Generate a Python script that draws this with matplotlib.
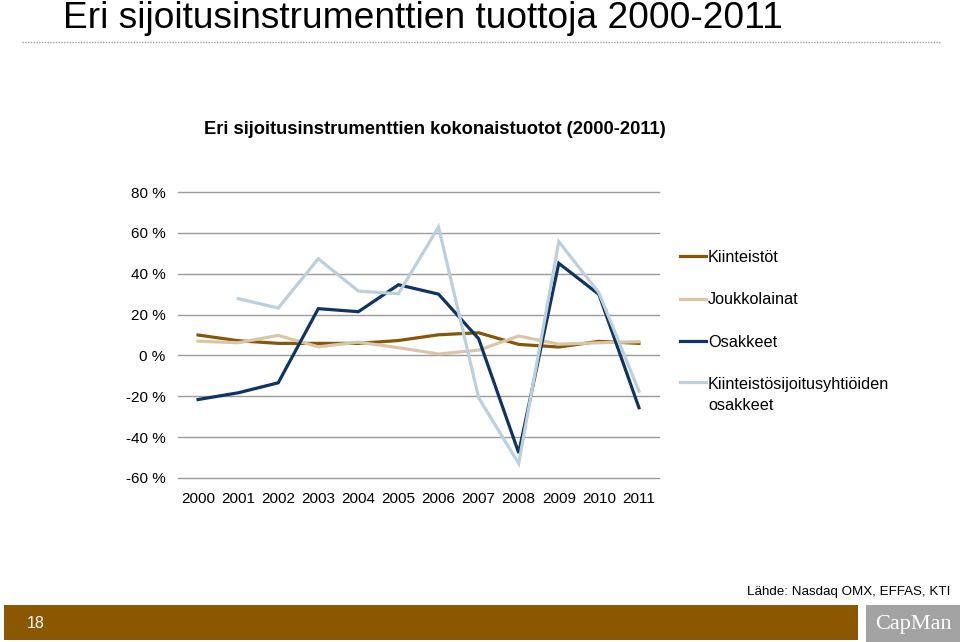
import matplotlib
matplotlib.use("Agg")
import matplotlib.pyplot as plt
from matplotlib.patches import Rectangle
from matplotlib.lines import Line2D
import numpy as np

plt.rcParams['font.family'] = ['Liberation Sans', 'DejaVu Sans']

years = [str(y) for y in range(2000, 2012)]
kiinteistot = [10.0, 7.2, 5.9, 5.9, 5.9, 7.3, 10.1, 11.1, 5.4, 4.1, 6.9, 5.9]
joukkolainat = [7.0, 6.2, 9.8, 4.2, 6.5, 3.8, 0.7, 2.6, 9.5, 5.5, 6.2, 6.7]
osakkeet = [-21.6, -18.3, -13.4, 22.9, 21.4, 34.6, 30.0, 8.2, -47.7, 45.1, 29.9, -25.6]
ksy_osakkeet = [np.nan, 27.8, 23.2, 47.3, 31.5, 30.2, 62.9, -20.7, -52.9, 55.7, 30.7, -17.5]

series = [
    ("Kiinteistöt", kiinteistot, "#875708"),
    ("Joukkolainat", joukkolainat, "#d8c6a6"),
    ("Osakkeet", osakkeet, "#0f3461"),
    ("Kiinteistösijoitusyhtiöiden\nosakkeet", ksy_osakkeet, "#bccfdc"),
]
yticks = [-60, -40, -20, 0, 20, 40, 60, 80]

W, H = 960, 642
fig = plt.figure(figsize=(W / 100, H / 100), dpi=100)

# page title and dotted rule
fig.text(63 / W, 1 - 18 / H, "Eri sijoitusinstrumenttien tuottoja 2000-2011",
         fontsize=26.7, va="center", ha="left")
fig.add_artist(Line2D([22 / W, 940 / W], [1 - 42 / H, 1 - 42 / H],
                      color="#a0a0a0", lw=1, ls=(0, (1, 1))))

ax = fig.add_axes([178 / W, 1 - 478 / H, 481 / W, 286 / H])
x = np.arange(len(years))
for name, vals, col in series:
    ax.plot(x, vals, color=col, lw=2.3, label=name, solid_joinstyle="miter")

ax.set_xlim(-0.5, len(years) - 0.5)
ax.set_ylim(-60, 80)
ax.set_yticks(yticks)
ax.set_yticklabels([f"{v} %" for v in yticks], fontsize=11)
ax.set_xticks(x)
ax.set_xticklabels(years, fontsize=11)
ax.grid(axis="y", color="#9a9a9a", lw=1)
for gl in ax.get_ygridlines():
    gl.set_clip_on(False)
ax.set_axisbelow(True)
for s in ax.spines.values():
    s.set_visible(False)
ax.tick_params(axis="y", length=0, pad=9)
ax.tick_params(axis="x", length=0, pad=10)

fig.text(435 / W, 1 - 130 / H, "Eri sijoitusinstrumenttien kokonaistuotot (2000-2011)",
         fontsize=13.2, fontweight="bold", ha="center", va="center")

handles, labels = ax.get_legend_handles_labels()
leg = fig.legend(handles, labels, loc="upper left", bbox_to_anchor=(665 / W, 1 - 235 / H),
                 frameon=False, fontsize=11.7, handlelength=1.6, handletextpad=0.15,
                 labelspacing=1.7)
leg.get_texts()[3].set_linespacing(1.45)
# keep the last handle level with the first line of its two-line label
last = leg.legend_handles[3]
last.set_ydata(np.asarray(last.get_ydata()) + 9.5)

# footer
fig.text(950 / W, 1 - 592 / H, "Lähde: Nasdaq OMX, EFFAS, KTI", fontsize=9.6,
         ha="right", va="center")
fig.add_artist(Rectangle((4 / W, 1 - 640 / H), 854 / W, 35 / H,
                         transform=fig.transFigure, color="#8b5700", lw=0))
fig.text(27 / W, 1 - 623 / H, "18", color="white", fontsize=11.5, va="center")
fig.add_artist(Rectangle((866 / W, 0), 94 / W, 37 / H,
                         transform=fig.transFigure, color="#a3a3a3", lw=0))
fig.text(913 / W, 1 - 624 / H, "CapMan", color="white", fontsize=16,
         family="Liberation Serif", ha="center", va="center")

plt.savefig("out.png", dpi=100)
